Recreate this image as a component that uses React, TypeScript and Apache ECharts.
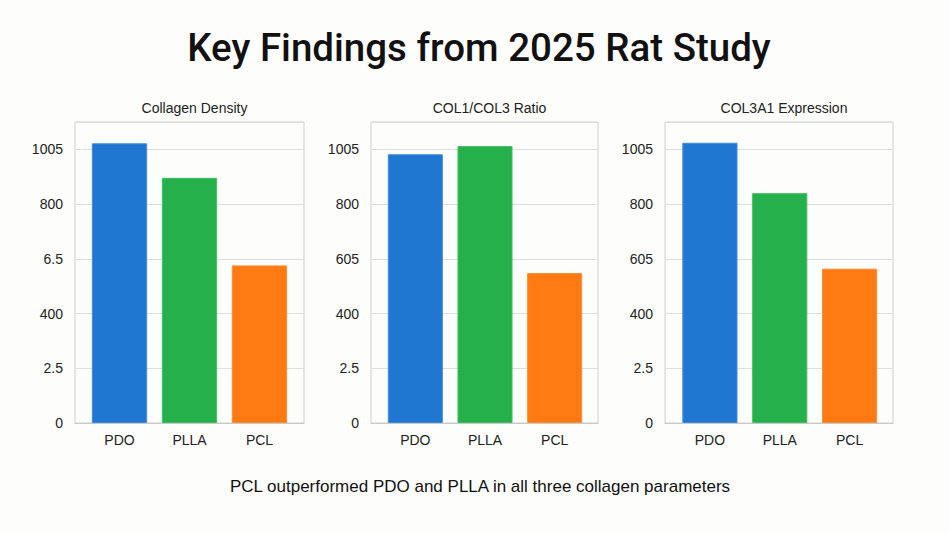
import React, { useEffect, useRef } from "react";
import * as echarts from "echarts";

const categories = ["PDO", "PLLA", "PCL"];
const panelTitles = ["Collagen Density", "COL1/COL3 Ratio", "COL3A1 Expression"];
const tickLabels1 = ["0", "2.5", "400", "6.5", "800", "1005"];
const tickLabels2 = ["0", "2.5", "400", "605", "800", "1005"];
const tickLabels3 = ["0", "2.5", "400", "605", "800", "1005"];
// values expressed in axis tick positions (0 = first tick, 5 = last tick)
const collagenDensity = [5.11, 4.48, 2.88];
const colRatio = [4.91, 5.06, 2.74];
const col3a1 = [5.12, 4.2, 2.82];
const barColors = ["#1f77d2", "#26b04b", "#ff7a12"];

const panels = [
  { title: panelTitles[0], ticks: tickLabels1, data: collagenDensity, left: 75, width: 229, barLeft: 84.5, barWidth: 210 },
  { title: panelTitles[1], ticks: tickLabels2, data: colRatio, left: 371, width: 227, barLeft: 380.5, barWidth: 209 },
  { title: panelTitles[2], ticks: tickLabels3, data: col3a1, left: 665, width: 228, barLeft: 675, barWidth: 209.5 },
];

const FONT = "Liberation Sans, Arial, sans-serif";
const TOP = 122;
const BOTTOM = 110;

export default function App() {
  const ref = useRef<HTMLDivElement>(null);
  useEffect(() => {
    if (!ref.current) return;
    const chart = echarts.init(ref.current, undefined, { renderer: "svg" });
    const grids: any[] = [];
    const xAxes: any[] = [];
    const yAxes: any[] = [];
    const series: any[] = [];
    panels.forEach((p, i) => {
      const frameIdx = grids.length;
      grids.push({
        left: p.left,
        width: p.width,
        top: TOP,
        bottom: BOTTOM,
        show: true,
        borderColor: "#cfcfcf",
        borderWidth: 1,
        backgroundColor: "transparent",
      });
      xAxes.push({
        type: "category",
        gridIndex: frameIdx,
        data: categories,
        axisLine: { show: true, lineStyle: { color: "#c8c8c8" } },
        axisTick: { show: false },
        axisLabel: { show: false },
      });
      yAxes.push({
        type: "value",
        gridIndex: frameIdx,
        min: 0,
        max: 5.5,
        interval: 1,
        axisLine: { show: false },
        axisTick: { show: false },
        splitLine: { show: true, lineStyle: { color: "#dedede" } },
        axisLabel: {
          fontFamily: FONT,
          fontSize: 14,
          color: "#222",
          margin: 12,
          formatter: (v: number) => (Number.isInteger(v) ? p.ticks[v] ?? "" : ""),
        },
      });
      const barIdx = grids.length;
      grids.push({ left: p.barLeft, width: p.barWidth, top: TOP, bottom: BOTTOM });
      xAxes.push({
        type: "category",
        gridIndex: barIdx,
        data: categories,
        axisLine: { show: false },
        axisTick: { show: false },
        axisLabel: { fontFamily: FONT, fontSize: 14, color: "#222", margin: 10 },
      });
      yAxes.push({
        type: "value",
        gridIndex: barIdx,
        min: 0,
        max: 5.5,
        interval: 1,
        show: false,
        splitLine: { show: false },
      });
      series.push({
        type: "bar",
        xAxisIndex: barIdx,
        yAxisIndex: barIdx,
        barCategoryGap: "21%",
        data: p.data.map((v, j) => ({
          value: v,
          itemStyle: { color: barColors[j], borderColor: echarts.color.lift(barColors[j], 0.15), borderWidth: 1 },
        })),
      });
    });
    const option: any = {
      animation: false,
      backgroundColor: "#fdfdfb",
      title: [
        {
          text: "Key Findings from 2025 Rat Study",
          left: 474,
          top: 23,
          textAlign: "center",
          textStyle: { fontFamily: "Roboto, sans-serif", fontSize: 38.5, fontWeight: 500, color: "#111" },
        },
        ...panels.map((p) => ({
          text: p.title,
          left: p.left + p.width / 2,
          top: 96,
          textAlign: "center",
          textStyle: { fontFamily: FONT, fontSize: 14, fontWeight: "normal", color: "#222" },
        })),
        {
          text: "PCL outperformed PDO and PLLA in all three collagen parameters",
          left: 475,
          top: 473,
          textAlign: "center",
          textStyle: { fontFamily: FONT, fontSize: 17, fontWeight: "normal", color: "#111" },
        },
      ],
      grid: grids,
      xAxis: xAxes,
      yAxis: yAxes,
      series,
    };
    chart.setOption(option);
    return () => chart.dispose();
  }, []);
  return <div ref={ref} style={{ width: 949, height: 533, position: "absolute", left: 0, top: 0 }} />;
}
